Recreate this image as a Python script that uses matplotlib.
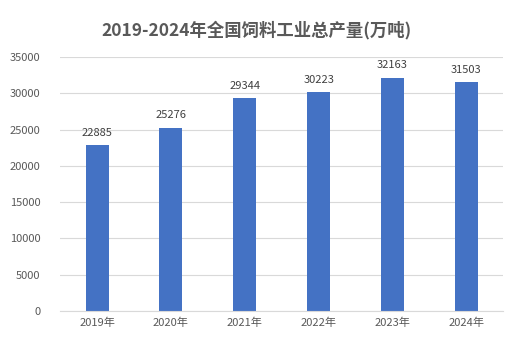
import matplotlib
matplotlib.use("Agg")
from matplotlib import pyplot as plt

plt.rcParams['font.family'] = ['Noto Sans CJK SC', 'DejaVu Sans']

years = ['2019年', '2020年', '2021年', '2022年', '2023年', '2024年']
output = [22885, 25276, 29344, 30223, 32163, 31503]
yticks = [0, 5000, 10000, 15000, 20000, 25000, 30000, 35000]

fig = plt.figure(figsize=(5.14, 3.38), dpi=100)
ax = fig.add_axes([0.117, 0.080, 0.862, 0.751])

x = range(len(years))
bars = ax.bar(x, output, width=0.31, color='#4472C4', zorder=2)

# value labels above bars
for i, v in enumerate(output):
    ax.text(i, v + 1000, str(v), ha='center', va='bottom',
            fontsize=8, color='#404040')

ax.set_xlim(-0.5, len(years) - 0.5)
ax.set_ylim(0, 35000)
ax.set_yticks(yticks)
ax.set_yticklabels([str(t) for t in yticks])
ax.set_xticks(list(x))
ax.set_xticklabels(years)
ax.grid(axis='y', color='#D9D9D9', linewidth=0.8, zorder=0)
for s in ['top', 'right', 'left']:
    ax.spines[s].set_visible(False)
ax.spines['bottom'].set_color('#D9D9D9')
ax.tick_params(axis='both', length=0, labelsize=8, colors='#595959')
ax.tick_params(axis='x', pad=5)
ax.tick_params(axis='y', pad=14)

fig.text(0.5, 0.91, '2019-2024年全国饲料工业总产量(万吨)', ha='center', va='center',
         fontsize=12.5, fontweight='bold', color='#595959')

fig.savefig('out.png', dpi=100)
